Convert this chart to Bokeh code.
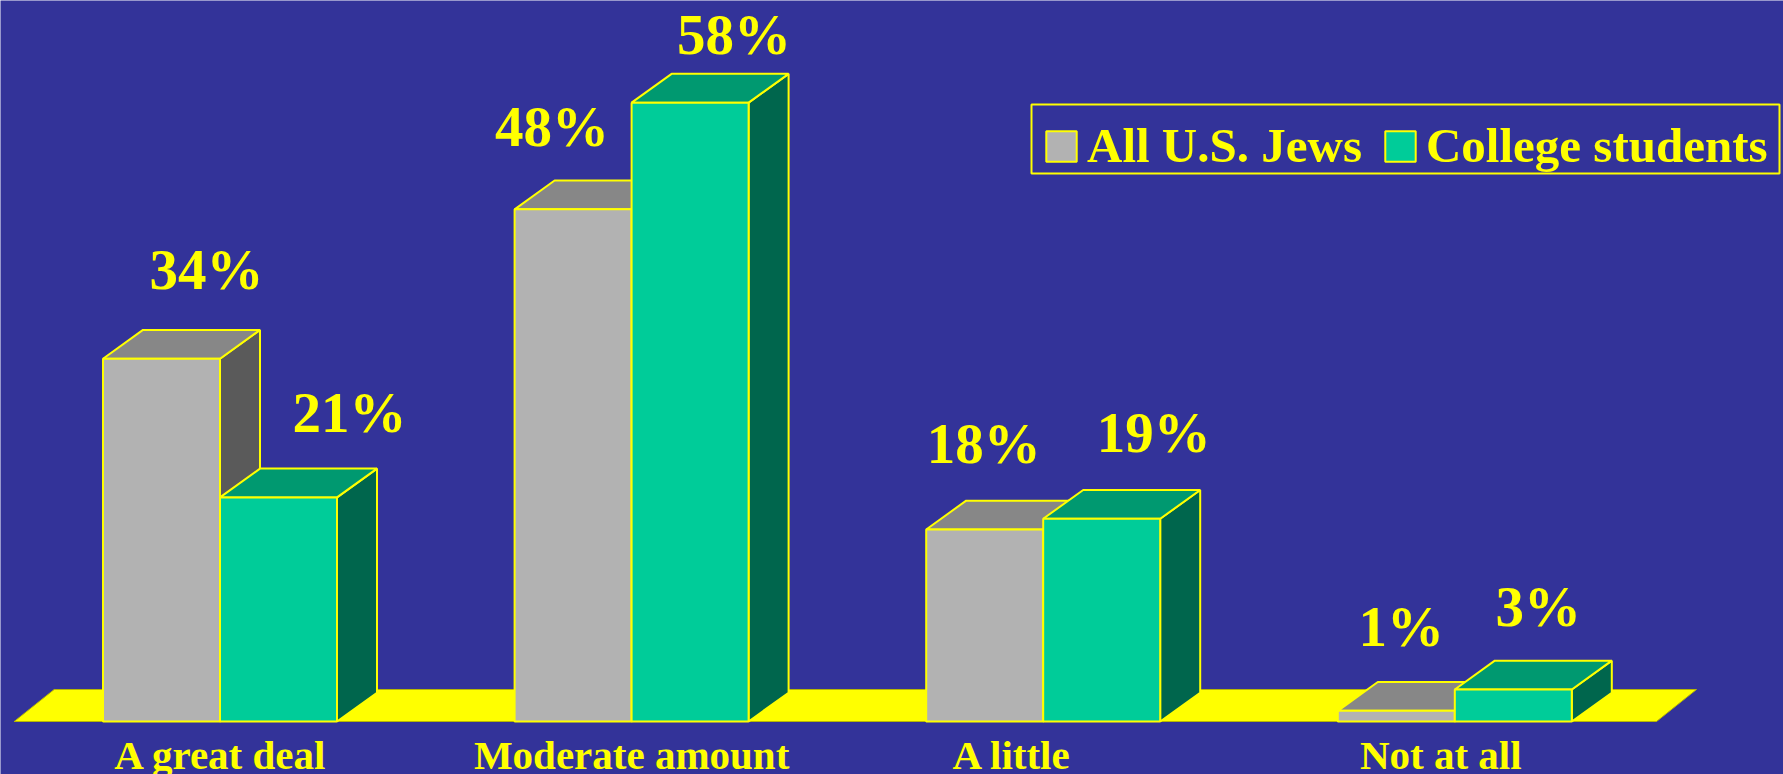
import re
from bokeh.plotting import figure
from bokeh.models import Range1d, ColumnDataSource, Legend, LegendItem, BoxAnnotation
from bokeh.core.properties import value
from bokeh.embed import file_html
from bokeh.resources import INLINE

# ---------------- data ----------------
categories = ["A great deal", "Moderate amount", "A little", "Not at all"]
series_names = ["All U.S. Jews", "College students"]
all_us_jews = [34, 48, 18, 1]
college_students = [21, 58, 19, 3]

# ---------------- layout / style ----------------
W, H = 1783, 774
PX_PER_CAT = 411.6
PX_PER_PCT = 10.67
CAT0_PX = 219.5
ZERO_PX_FROM_BOTTOM = 53
BW = 117 / PX_PER_CAT        # bar width (category units)
DX = 40 / PX_PER_CAT         # depth, horizontal
DY = 2.7                     # depth, vertical (percent units)
FLOOR_DY = 3.0
FLOOR_LEFT_PAD = 0.50
FLOOR_RIGHT_PAD = 0.49

BG = "#333399"
YEL = "#FFFF00"
FONT = "Liberation Serif"
faces = {
    0: dict(front="#B2B2B2", top="#878787", side="#5A5A5A"),
    1: dict(front="#00CC99", top="#009970", side="#00664D"),
}
# hand placement nudges of value labels (pixels; +y = up)
label_dx = [[25, -41, -21, -15], [51, 24, 32, 5]]
label_dy = [[60, 54, 57, 56], [56.5, 39, 57.5, 54]]
cat_label_dx = [1, 0, -31, -14]
CAT_LABEL_PX_BELOW = 33

x0 = -CAT0_PX / PX_PER_CAT
y0 = -ZERO_PX_FROM_BOTTOM / PX_PER_PCT


def sx(px):
    return x0 + px / PX_PER_CAT


def sy(py):
    return y0 + (H - py) / PX_PER_PCT


p = figure(width=W, height=H, output_backend="svg", toolbar_location=None,
           x_range=Range1d(x0, x0 + W / PX_PER_CAT),
           y_range=Range1d(y0, y0 + H / PX_PER_PCT),
           min_border=0, background_fill_color=BG, border_fill_color=BG)
p.axis.visible = False
p.grid.visible = False
p.outline_line_color = None

n = len(categories)
# floor
fl = -FLOOR_LEFT_PAD
fr = (n - 1) + FLOOR_RIGHT_PAD
p.patch([fl, fr, fr + DX, fl + DX], [0, 0, FLOOR_DY, FLOOR_DY],
        fill_color=YEL, line_color="#B8B800", line_width=1)

fronts = []
for s, vals in enumerate([all_us_jews, college_students]):
    lefts = [i - BW if s == 0 else i for i in range(n)]
    rights = [l + BW for l in lefts]
    side_xs = [[r, r + DX, r + DX, r] for r in rights]
    side_ys = [[0, DY, v + DY, v] for v in vals]
    top_xs = [[l, r, r + DX, l + DX] for l, r in zip(lefts, rights)]
    top_ys = [[v, v, v + DY, v + DY] for v in vals]
    p.patches(side_xs, side_ys, fill_color=faces[s]["side"], line_color=YEL, line_width=2)
    p.patches(top_xs, top_ys, fill_color=faces[s]["top"], line_color=YEL, line_width=2)
    fr_r = p.quad(left=lefts, right=rights, bottom=[0] * n, top=vals,
                  fill_color=faces[s]["front"], line_color=YEL, line_width=2)
    fronts.append(fr_r)
    lx = [(l + r) / 2 + DX / 2 + dx / PX_PER_CAT for l, r, dx in zip(lefts, rights, label_dx[s])]
    ly = [v + DY + dy / PX_PER_PCT for v, dy in zip(vals, label_dy[s])]
    src = ColumnDataSource(dict(x=lx, y=ly, t=[f"{v}%" for v in vals]))
    p.text(x="x", y="y", text="t", source=src, text_font=value(FONT),
           text_font_style="bold", text_font_size="57px", text_color=YEL,
           text_align="center", text_baseline="middle")

# category labels
csrc = ColumnDataSource(dict(x=[i + dx / PX_PER_CAT for i, dx in enumerate(cat_label_dx)],
                             y=[-CAT_LABEL_PX_BELOW / PX_PER_PCT] * n, t=categories))
p.text(x="x", y="y", text="t", source=csrc, text_font=value(FONT),
       text_font_style="bold", text_font_size="41px", text_color=YEL,
       text_align="center", text_baseline="middle")

# legend frame
p.add_layout(BoxAnnotation(left=sx(1031), right=sx(1779), top=sy(104), bottom=sy(173),
                           fill_alpha=0, line_color=YEL, line_width=2, line_alpha=1.0))

legend = Legend(items=[LegendItem(label=series_names[0], renderers=[fronts[0]]),
                       LegendItem(label=series_names[1], renderers=[fronts[1]])],
                orientation="horizontal", location=(1042, 600),
                padding=4, spacing=19, label_standoff=7, margin=0,
                glyph_width=38, glyph_height=38,
                label_text_font=FONT, label_text_font_style="bold",
                label_text_font_size="49px", label_text_color=YEL,
                border_line_color=None, background_fill_alpha=0.0)
p.add_layout(legend)

html = file_html(p, INLINE)
html = re.sub(r"<body[^>]*>", '<body style="background-color:#333399;">', html, count=1)
open("out.html", "w").write(html)
